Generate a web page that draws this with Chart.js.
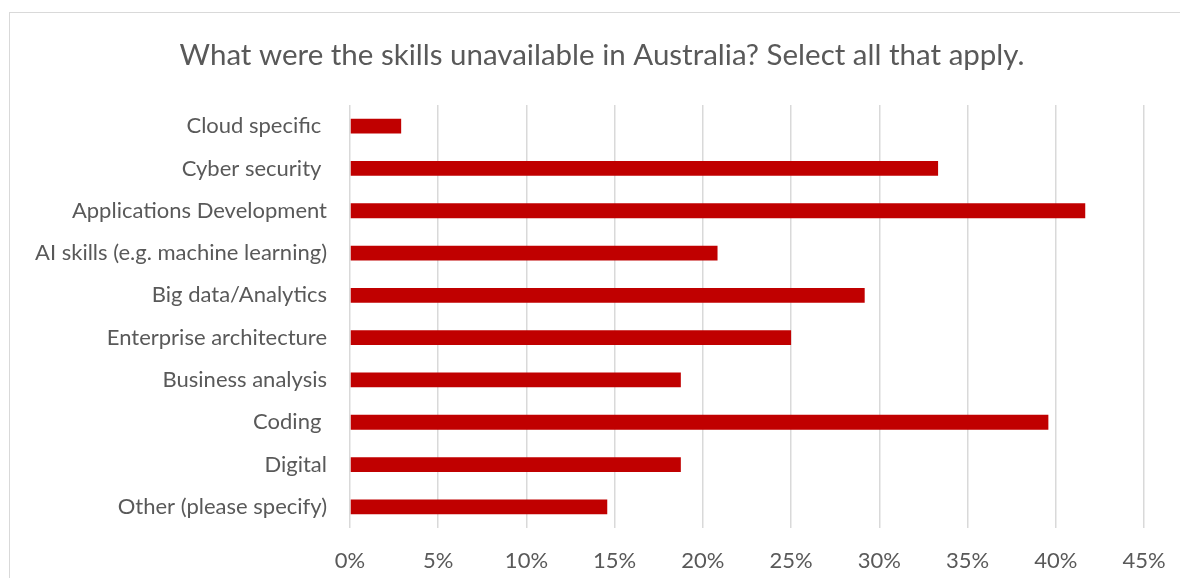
<!DOCTYPE html>
<html>
<head>
<meta charset="utf-8">
<script src="https://cdn.jsdelivr.net/npm/chart.js@4"></script>
<style>
  html, body { margin: 0; padding: 0; background: #ffffff; overflow: hidden; }
  #wrap { position: relative; width: 1180px; height: 578px; }
  #frame { position: absolute; left: 9px; top: 12px; width: 1200px; height: 600px;
           border: 1.5px solid #d9d9d9; box-sizing: border-box; }
  #chart { position: absolute; left: 0; top: 0; }
</style>
</head>
<body>
<div id="wrap">
  <div id="frame"></div>
  <canvas id="chart" width="1180" height="578"></canvas>
</div>
<script>
// Survey answers, top to bottom
const categories = [
  'Cloud specific ',
  'Cyber security ',
  'Applications Development',
  'AI skills (e.g. machine learning)',
  'Big data/Analytics',
  'Enterprise architecture',
  'Business analysis',
  'Coding ',
  'Digital',
  'Other (please specify)'
];
// Share of respondents, in percent
const shares = [2.9, 33.33, 41.67, 20.83, 29.17, 25, 18.75, 39.58, 18.75, 14.58];
// Value axis ticks
const tickValues = [0, 5, 10, 15, 20, 25, 30, 35, 40, 45];
const tickLabels = ['0%', '5%', '10%', '15%', '20%', '25%', '30%', '35%', '40%', '45%'];

const titleText = 'What were the skills unavailable in Australia? Select all that apply.';
const textColor = '#595959';
const fontFamily = 'Lato, "Open Sans", sans-serif';

// Title sits centred over the whole frame, not over the canvas minus padding
const frameTitle = {
  id: 'frameTitle',
  afterDraw(chart) {
    const ctx = chart.ctx;
    ctx.save();
    ctx.fillStyle = textColor;
    ctx.font = '29.5px ' + fontFamily;
    ctx.textAlign = 'center';
    ctx.textBaseline = 'middle';
    ctx.fillText(titleText, 602, 55);
    ctx.restore();
  }
};

new Chart(document.getElementById('chart'), {
  type: 'bar',
  data: {
    labels: categories,
    datasets: [{
      data: shares,
      backgroundColor: '#c00000',
      borderWidth: 0,
      categoryPercentage: 1,
      barPercentage: 0.35
    }]
  },
  options: {
    indexAxis: 'y',
    responsive: false,
    animation: false,
    layout: { padding: { left: 0, right: 36, top: 105, bottom: 0 } },
    plugins: {
      legend: { display: false },
      tooltip: { enabled: false },
      title: { display: false }
    },
    scales: {
      x: {
        min: tickValues[0],
        max: tickValues[tickValues.length - 1],
        afterBuildTicks: (scale) => { scale.ticks = tickValues.map(v => ({ value: v })); },
        afterFit: (scale) => {
          scale.height = 50;
          scale.paddingLeft = 0;
          scale.paddingRight = 0;
        },
        grid: { color: '#d9d9d9', lineWidth: 1.5, drawTicks: false },
        border: { display: false },
        ticks: {
          color: textColor,
          padding: 20,
          maxRotation: 0,
          font: { family: fontFamily, size: 22 },
          callback: (v) => tickLabels[tickValues.indexOf(v)]
        }
      },
      y: {
        grid: { display: false, drawTicks: false },
        border: { display: false },
        afterFit: (scale) => { scale.width = 350; },
        ticks: {
          color: textColor,
          padding: 23,
          autoSkip: false,
          font: { family: fontFamily, size: 22 }
        }
      }
    }
  },
  plugins: [frameTitle]
});
</script>
</body>
</html>
